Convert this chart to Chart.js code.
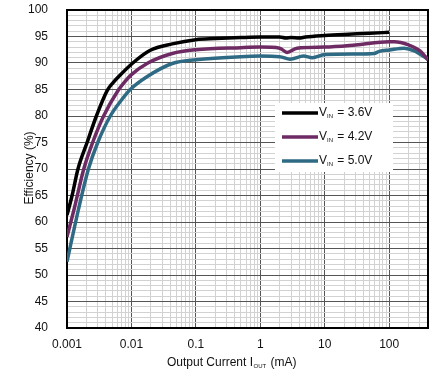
<!DOCTYPE html>
<html>
<head>
<meta charset="utf-8">
<script src="https://cdn.jsdelivr.net/npm/chart.js@4/dist/chart.umd.min.js"></script>
<style>
html,body{margin:0;padding:0;background:#fff;}
#wrap{width:442px;height:386px;position:relative;}
</style>
</head>
<body>
<div id="wrap"><canvas id="c" width="442" height="386"></canvas></div>
<script>
// ---- data ----
const xTickLabels = ['0.001', '0.01', '0.1', '1', '10', '100'];
const seriesNames = ['3.6V', '4.2V', '5.0V'];
const seriesColors = ['#000000', '#6e2a63', '#2f6a84'];

const x36 = [0.001, 0.0012, 0.00148, 0.00205, 0.00286, 0.0042, 0.0052, 0.0063, 0.0105, 0.0196, 0.043, 0.1, 0.2, 0.5, 1, 2, 2.5, 3, 4, 5, 10, 20, 50, 100];
const y36 = [61.3, 65.0, 70.0, 75.0, 80.0, 84.8, 86.3, 87.4, 90.0, 92.4, 93.6, 94.4, 94.6, 94.8, 94.9, 94.9, 94.7, 94.8, 94.7, 94.9, 95.2, 95.4, 95.6, 95.8];

const x42 = [0.001, 0.0013, 0.00182, 0.0025, 0.0037, 0.0062, 0.0078, 0.01, 0.018, 0.043, 0.1, 0.5, 1, 2, 2.6, 3.7, 10, 30, 100, 120, 200, 300, 400];
const y42 = [57.2, 62.6, 70.0, 75.0, 80.0, 84.8, 86.4, 87.8, 90.0, 91.8, 92.5, 92.9, 93.0, 92.8, 92.0, 92.8, 93.0, 93.4, 94.0, 94.0, 93.4, 92.3, 90.6];

const x50 = [0.001, 0.0015, 0.00215, 0.003, 0.0047, 0.0072, 0.0096, 0.0174, 0.043, 0.1, 0.5, 1, 2, 2.9, 4.7, 6.4, 10, 30, 58, 70, 100, 170, 245, 400];
const y50 = [52.5, 62.3, 70.0, 75.0, 80.0, 83.2, 85.0, 87.4, 89.9, 90.6, 91.2, 91.3, 91.2, 90.7, 91.3, 91.0, 91.6, 91.7, 91.8, 92.2, 92.45, 92.8, 92.3, 90.7];

const xs = [x36, x42, x50];
const ys = [y36, y42, y50];

const FONT = '"Liberation Sans", Arial, sans-serif';

const datasets = seriesNames.map((n, i) => ({
  label: 'VIN = ' + n,
  data: xs[i].map((x, j) => ({x: x, y: ys[i][j]})),
  borderColor: seriesColors[i],
  backgroundColor: seriesColors[i],
  borderWidth: 3.5,
  pointRadius: 0,
  cubicInterpolationMode: 'monotone',
  fill: false
}));

function isDecade(v) {
  const l = Math.log10(v);
  return Math.abs(l - Math.round(l)) < 1e-6;
}

const decor = {
  id: 'decor',
  beforeDatasetsDraw(chart) {
    const {ctx, chartArea: a} = chart;
    ctx.save();
    ctx.strokeStyle = '#000';
    ctx.lineWidth = 2;
    ctx.strokeRect(a.left, a.top, a.right - a.left, a.bottom - a.top);
    ctx.restore();
  },
  afterDraw(chart) {
    const {ctx} = chart;
    ctx.save();
    ctx.fillStyle = '#111';
    ctx.textBaseline = 'middle';
    // x title with subscript
    ctx.font = '12px ' + FONT;
    let x = 167, y = 363;
    const p1 = 'Output Current I';
    ctx.textAlign = 'left';
    ctx.fillText(p1, x, y);
    x += ctx.measureText(p1).width + 0.5;
    ctx.font = '6px ' + FONT;
    ctx.fillText('OUT', x, y + 3);
    x += ctx.measureText('OUT').width + 1;
    ctx.font = '12px ' + FONT;
    ctx.fillText(' (mA)', x, y);
    // y title
    ctx.translate(30, 168);
    ctx.rotate(-Math.PI / 2);
    ctx.textAlign = 'center';
    ctx.fillText('Efficiency (%)', 0, 0);
    ctx.restore();

    // legend
    ctx.save();
    ctx.fillStyle = '#fff';
    ctx.fillRect(275, 103, 118, 69);
    const ly = [113, 137, 161];
    chart.data.datasets.forEach((ds, i) => {
      ctx.strokeStyle = ds.borderColor;
      ctx.lineWidth = 3.5;
      ctx.beginPath();
      ctx.moveTo(282, ly[i]);
      ctx.lineTo(318, ly[i]);
      ctx.stroke();
      ctx.fillStyle = '#111';
      ctx.textBaseline = 'middle';
      ctx.textAlign = 'left';
      let tx = 319;
      ctx.font = '12px ' + FONT;
      ctx.fillText('V', tx, ly[i]);
      tx += ctx.measureText('V').width;
      ctx.font = '6px ' + FONT;
      ctx.fillText('IN', tx, ly[i] + 3);
      tx += ctx.measureText('IN').width + 1;
      ctx.font = '12px ' + FONT;
      ctx.fillText(' = ' + seriesNames[i], tx, ly[i]);
    });
    ctx.restore();
  }
};

new Chart(document.getElementById('c'), {
  type: 'line',
  data: {datasets},
  options: {
    responsive: false,
    animation: false,
    devicePixelRatio: 1,
    layout: {padding: {top: 10, right: 14, left: 0, bottom: 0}},
    plugins: {legend: {display: false}, tooltip: {enabled: false}},
    scales: {
      x: {
        type: 'logarithmic',
        min: 0.001,
        max: 400,
        afterBuildTicks(scale) {
          const t = [];
          for (let e = -3; e <= 2; e++) {
            for (let m = 1; m <= 9; m++) {
              const v = m * Math.pow(10, e);
              if (v <= 400 + 1e-9) t.push({value: v});
            }
          }
          scale.ticks = t;
        },
        afterFit(scale) { scale.height = 58; scale.paddingLeft = 0; scale.paddingRight = 0; },
        grid: {
          drawTicks: false,
          color: (c) => (c.tick && isDecade(c.tick.value)) ? '#555' : '#d2d2d2',
          lineWidth: 1
        },
        border: {display: false},
        ticks: {
          autoSkip: false,
          maxRotation: 0,
          padding: 9,
          color: '#111',
          font: {family: FONT, size: 12},
          callback: function (v) {
            if (!isDecade(v)) return '';
            const i = Math.round(Math.log10(v)) + 3;
            return xTickLabels[i] || '';
          }
        }
      },
      y: {
        min: 40,
        max: 100,
        afterFit(scale) { scale.width = 67; scale.paddingTop = 0; scale.paddingBottom = 0; },
        grid: {
          drawTicks: false,
          color: (c) => (c.tick && c.tick.value % 5 === 0) ? '#555' : '#d2d2d2',
          lineWidth: 1
        },
        border: {display: false},
        ticks: {
          stepSize: 1,
          autoSkip: false,
          padding: 19,
          color: '#111',
          font: {family: FONT, size: 12},
          callback: (v) => (v % 5 === 0) ? String(v) : ''
        }
      }
    }
  },
  plugins: [decor]
});
</script>
</body>
</html>
